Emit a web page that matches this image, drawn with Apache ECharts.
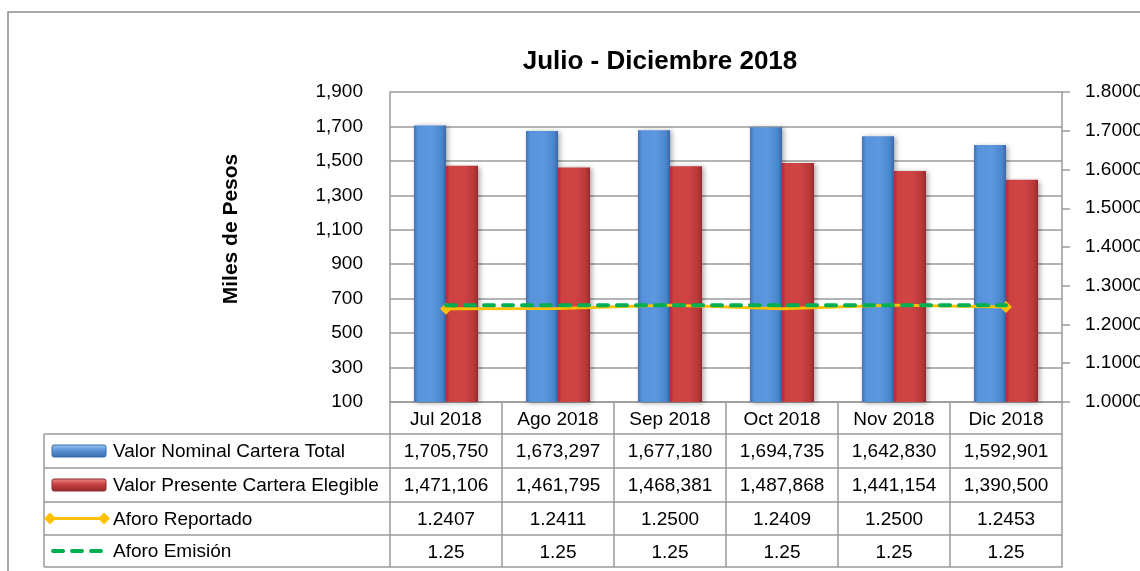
<!DOCTYPE html>
<html>
<head>
<meta charset="utf-8">
<script src="https://cdn.jsdelivr.net/npm/echarts@6/dist/echarts.min.js"></script>
<style>html,body{margin:0;padding:0;background:#fff}#c{width:1140px;height:571px}</style>
</head>
<body>
<div id="c"></div>
<script>
var categories = ['Jul 2018','Ago 2018','Sep 2018','Oct 2018','Nov 2018','Dic 2018'];
var valorNominal = [1705750, 1673297, 1677180, 1694735, 1642830, 1592901];
var valorPresente = [1471106, 1461795, 1468381, 1487868, 1441154, 1390500];
var aforoReportado = [1.2407, 1.2411, 1.2500, 1.2409, 1.2500, 1.2453];
var aforoEmision = [1.25, 1.25, 1.25, 1.25, 1.25, 1.25];
var seriesNames = ['Valor Nominal Cartera Total','Valor Presente Cartera Elegible','Aforo Reportado','Aforo Emisión'];
var leftTicks = {min: 100, max: 1900, interval: 200};
var rightTicks = {min: 1.0, max: 1.8, interval: 0.1};

function commas(n){ return String(Math.round(n)).replace(/\B(?=(\d{3})+(?!\d))/g, ','); }

var FONT = "'Liberation Sans', Arial, sans-serif";
var GRID = {left: 390, right: 78, top: 92, bottom: 169, outerBoundsMode: 'none', containLabel: false};
var LINE = '#9a9a9a';
var plotBottom = 571 - GRID.bottom;
var rowOffsets = [0, 32, 66, 100, 133, 165];
var rowTexts = [
  null,
  valorNominal.map(commas),
  valorPresente.map(commas),
  aforoReportado.map(function(v){return v.toFixed(4);}),
  aforoEmision.map(function(v){return v.toFixed(2);})
];

var xAxes = [];
for (var k = 0; k < 5; k++) {
  (function(k){
    xAxes.push({
      type: 'category', data: categories, position: 'bottom', offset: rowOffsets[k],
      axisLine: {show: true, lineStyle: {color: LINE, width: 1.5}},
      axisTick: {show: true, alignWithLabel: false, interval: 0, length: rowOffsets[k+1]-rowOffsets[k], lineStyle: {color: LINE, width: 1.5}},
      axisLabel: {show: true, interval: 0, margin: 8, fontFamily: FONT, fontSize: 19, color: '#000',
        formatter: function(v, i){ return k === 0 ? v : rowTexts[k][i]; }},
      splitLine: {show: false}
    });
  })(k);
}
xAxes.push({
  type: 'category', data: categories, position: 'bottom', offset: rowOffsets[5],
  axisLine: {show: true, lineStyle: {color: LINE, width: 1.5}},
  axisTick: {show: false}, axisLabel: {show: false}
});

function mkGrad(stops){
  return new echarts.graphic.LinearGradient(0,0,1,0, stops.map(function(s){return {offset:s[0], color:s[1]};}));
}
var blueGrad = [[0,'#3e72b6'],[0.12,'#5792da'],[0.55,'#5c98df'],[0.88,'#4c84cc'],[1,'#3a66a3']];
var redGrad = [[0,'#a63131'],[0.12,'#cf4242'],[0.55,'#d04444'],[0.88,'#b83838'],[1,'#922a2a']];

function endSymbols(arr){
  return arr.map(function(v,i){ return {value: v, symbol: (i===0 || i===arr.length-1) ? 'diamond' : 'none'}; });
}

// legend column / table frame graphics
var tableLeft = 44, tableRight = GRID.left;
var rowY = rowOffsets.map(function(o){return plotBottom + o;});
var graphics = [];
graphics.push({type:'rect', shape:{x:8, y:12, width:1160, height:600}, style:{fill:'none', stroke:'#8c8c8c', lineWidth:1.5}, silent:true});
for (var r = 1; r <= 5; r++) {
  graphics.push({type:'line', shape:{x1:tableLeft, y1:rowY[r], x2:tableRight, y2:rowY[r]}, style:{stroke:LINE, lineWidth:1.5}});
}
graphics.push({type:'line', shape:{x1:tableLeft, y1:rowY[1], x2:tableLeft, y2:rowY[5]}, style:{stroke:LINE, lineWidth:1.5}});
for (var r2 = 0; r2 < 4; r2++) {
  var cy = (rowY[r2+1] + rowY[r2+2]) / 2;
  graphics.push({type:'text', x:113, y:cy+1, style:{text:seriesNames[r2], font:'19px ' + FONT, fill:'#000', textVerticalAlign:'middle'}});
  if (r2 === 0 || r2 === 1) {
    var g = r2 === 0 ? ['#9cc8f2','#5a94d8','#3a6aa8'] : ['#f09090','#c84040','#8e2a2a'];
    graphics.push({type:'rect', shape:{x:52, y:cy-6, width:54, height:12, r:2},
      style:{fill: new echarts.graphic.LinearGradient(0,0,0,1,[{offset:0,color:g[0]},{offset:0.45,color:g[1]},{offset:1,color:g[2]}]), stroke:g[2], lineWidth:1}});
  } else if (r2 === 2) {
    graphics.push({type:'line', shape:{x1:50, y1:cy, x2:104, y2:cy}, style:{stroke:'#FFC000', lineWidth:3}});
    graphics.push({type:'polygon', shape:{points:[[44,cy],[50,cy-6],[56,cy],[50,cy+6]]}, style:{fill:'#FFC000'}});
    graphics.push({type:'polygon', shape:{points:[[98,cy],[104,cy-6],[110,cy],[104,cy+6]]}, style:{fill:'#FFC000'}});
  } else {
    graphics.push({type:'line', shape:{x1:53, y1:cy, x2:102, y2:cy}, style:{stroke:'#00B050', lineWidth:4, lineDash:[10,9], lineCap:'round'}});
  }
}

var option = {
  animation: false,
  backgroundColor: '#fff',
  title: {text: 'Julio - Diciembre 2018', left: 655, top: 44, textAlign: 'center',
    textStyle: {fontFamily: FONT, fontSize: 26, fontWeight: 'bold', color: '#000'}},
  grid: GRID,
  xAxis: xAxes,
  yAxis: [
    {type: 'value', min: leftTicks.min, max: leftTicks.max, interval: leftTicks.interval,
      name: 'Miles de Pesos', nameLocation: 'middle', nameGap: 148, nameRotate: 90,
      nameTextStyle: {fontFamily: FONT, fontSize: 21, fontWeight: 'bold', color: '#000', padding: [0,0,0,36]},
      axisLine: {show: true, lineStyle: {color: LINE, width: 1.5}},
      axisTick: {show: false},
      axisLabel: {margin: 27, fontFamily: FONT, fontSize: 19, color: '#000', formatter: function(v){return commas(v);}},
      splitLine: {show: true, lineStyle: {color: LINE, width: 1.5}}},
    {type: 'value', min: rightTicks.min, max: rightTicks.max, interval: rightTicks.interval, position: 'right',
      axisLine: {show: true, lineStyle: {color: LINE, width: 1.5}},
      axisTick: {show: true, inside: false, length: 8, lineStyle: {color: LINE, width: 1.5}},
      axisLabel: {margin: 23, fontFamily: FONT, fontSize: 19, color: '#000', formatter: function(v){return v.toFixed(4);}},
      splitLine: {show: false}}
  ],
  series: [
    {name: seriesNames[0], type: 'bar', xAxisIndex: 0, yAxisIndex: 0, barWidth: 32, barGap: '0%',
      data: valorNominal.map(function(v){return v/1000;}),
      itemStyle: {color: mkGrad(blueGrad), shadowColor: 'rgba(0,0,0,0.35)', shadowBlur: 5, shadowOffsetX: 2, shadowOffsetY: 1}},
    {name: seriesNames[1], type: 'bar', xAxisIndex: 0, yAxisIndex: 0, barWidth: 32, barGap: '0%',
      data: valorPresente.map(function(v){return v/1000;}),
      itemStyle: {color: mkGrad(redGrad), shadowColor: 'rgba(0,0,0,0.35)', shadowBlur: 5, shadowOffsetX: 2, shadowOffsetY: 1}},
    {name: seriesNames[2], type: 'line', xAxisIndex: 0, yAxisIndex: 1, data: endSymbols(aforoReportado),
      symbolSize: 12, z: 3, lineStyle: {color: '#FFC000', width: 3}, itemStyle: {color: '#FFC000'}},
    {name: seriesNames[3], type: 'line', xAxisIndex: 0, yAxisIndex: 1, data: aforoEmision, showSymbol: false, symbol: 'none', z: 4,
      lineStyle: {color: '#00B050', width: 4, type: [10, 9], cap: 'round'}}
  ],
  graphic: graphics
};
var chart = echarts.init(document.getElementById('c'), null, {renderer: 'canvas'});
chart.setOption(option);
</script>
</body>
</html>
